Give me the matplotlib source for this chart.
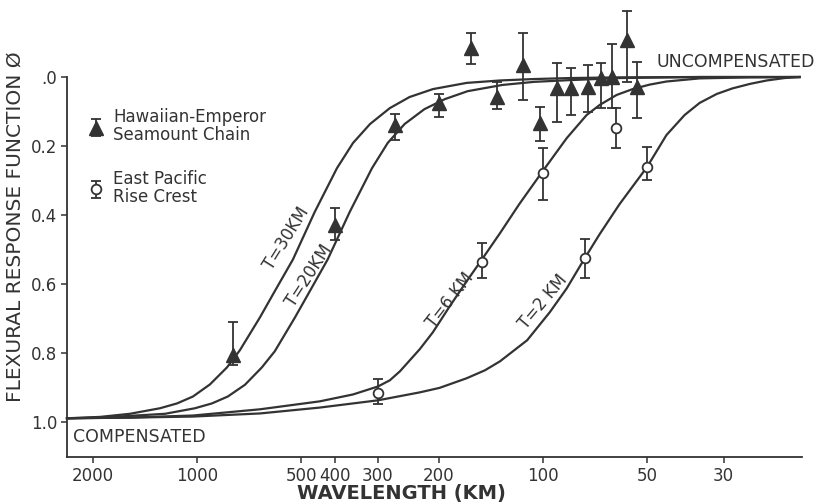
import numpy as np
import matplotlib
matplotlib.use("Agg")
import matplotlib.pyplot as plt

# flexural response curves, wavelength (km) vs phi
t30_wl = [2378, 1909, 1564, 1281, 1143, 1028, 918, 820, 752, 658, 596, 528, 457, 394, 354, 316, 277, 243, 208, 166, 133, 107, 83.6, 60, 35.2, 18.1]
t30_phi = [0.988, 0.984, 0.975, 0.959, 0.945, 0.925, 0.890, 0.841, 0.791, 0.696, 0.620, 0.528, 0.391, 0.264, 0.191, 0.136, 0.090, 0.058, 0.035, 0.017, 0.010, 0.006, 0.003, 0.001, 0.0, 0.0]

t20_wl = [2378, 1909, 1564, 1238, 1015, 906, 815, 727, 650, 596, 521, 472, 419, 362, 312, 281, 251, 220, 192, 165, 131, 106, 83.6, 60, 35.2, 18.1]
t20_phi = [0.988, 0.986, 0.981, 0.975, 0.959, 0.945, 0.925, 0.891, 0.841, 0.794, 0.696, 0.620, 0.528, 0.391, 0.264, 0.191, 0.136, 0.093, 0.064, 0.041, 0.023, 0.014, 0.009, 0.003, 0.0, 0.0]

t6_wl = [2378, 1564, 1028, 658, 442, 354, 300, 277, 259, 227, 208, 186, 166, 150, 133, 117, 100, 85.3, 74.7, 68.5, 61.2, 55.0, 49.1, 43.9, 35.2, 25.2, 18.1]
t6_phi = [0.988, 0.986, 0.980, 0.962, 0.939, 0.919, 0.896, 0.878, 0.852, 0.788, 0.739, 0.664, 0.591, 0.528, 0.452, 0.368, 0.272, 0.177, 0.110, 0.081, 0.052, 0.035, 0.022, 0.013, 0.004, 0.001, 0.0]

t2_wl = [2378, 1564, 1028, 658, 442, 300, 227, 199, 166, 147, 133, 111, 95.5, 85.3, 75.7, 68.5, 60.0, 50, 43.9, 38.9, 35.2, 31.4, 28.3, 25.2, 22.5, 20.0, 18.1]
t2_phi = [0.988, 0.986, 0.983, 0.974, 0.957, 0.936, 0.913, 0.900, 0.872, 0.849, 0.823, 0.762, 0.681, 0.612, 0.525, 0.455, 0.368, 0.261, 0.168, 0.110, 0.075, 0.049, 0.033, 0.020, 0.010, 0.003, 0.0]

# Hawaiian-Emperor seamount chain estimates
haw_wl = [788, 400, 268, 200, 161, 136, 114, 102, 91, 83, 74, 68, 63, 57, 53.5]
haw_phi = [0.806, 0.429, 0.139, 0.075, -0.084, 0.058, -0.035, 0.133, 0.032, 0.032, 0.029, 0.003, 0.0, -0.107, 0.029]
haw_lo = [0.71, 0.38, 0.107, 0.049, -0.128, 0.014, -0.128, 0.087, -0.041, -0.026, -0.035, -0.041, -0.096, -0.191, -0.043]
haw_hi = [0.835, 0.473, 0.183, 0.116, -0.038, 0.093, 0.067, 0.186, 0.13, 0.11, 0.101, 0.09, 0.09, 0.014, 0.119]

# East Pacific Rise crest estimates
epr_wl = [300, 150, 100, 75.7, 61.5, 50]
epr_phi = [0.916, 0.536, 0.278, 0.525, 0.148, 0.261]
epr_lo = [0.873, 0.481, 0.206, 0.47, 0.09, 0.203]
epr_hi = [0.948, 0.583, 0.357, 0.583, 0.206, 0.299]

xticks = [2000, 1000, 500, 400, 300, 200, 100, 50, 30]
yticks = [0, 0.2, 0.4, 0.6, 0.8, 1.0]
ytick_labels = [".0", "0.2", "0.4", "0.6", "0.8", "1.0"]

ink = "#333333"

fig = plt.figure(figsize=(8.27, 5.03), dpi=100)
ax = fig.add_axes([0.081, 0.0915, 0.8888, 0.8996])

for wl, phi in [(t30_wl, t30_phi), (t20_wl, t20_phi), (t6_wl, t6_phi), (t2_wl, t2_phi)]:
    ax.plot(wl, phi, color=ink, lw=1.6, solid_joinstyle="round", clip_on=False)

haw_phi_a = np.array(haw_phi)
epr_phi_a = np.array(epr_phi)
haw_err = [haw_phi_a - np.array(haw_lo), np.array(haw_hi) - haw_phi_a]
epr_err = [epr_phi_a - np.array(epr_lo), np.array(epr_hi) - epr_phi_a]

h1 = ax.errorbar(haw_wl, haw_phi, yerr=haw_err, fmt="^", ms=10, color=ink,
                 mfc=ink, mec=ink, ecolor=ink, elinewidth=1.3, capsize=3.5,
                 capthick=1.3, clip_on=False, zorder=4)
h2 = ax.errorbar(epr_wl, epr_phi, yerr=epr_err, fmt="o", ms=7, color=ink,
                 mfc="white", mec=ink, mew=1.3, ecolor=ink, elinewidth=1.3,
                 capsize=3.5, capthick=1.3, clip_on=False, zorder=4)

ax.set_xscale("log")
ax.set_xlim(2378, 17.8)
ax.set_ylim(1.1, -0.21)
ax.set_xticks(xticks)
ax.set_xticklabels([str(v) for v in xticks])
ax.xaxis.set_minor_locator(matplotlib.ticker.NullLocator())
ax.set_yticks(yticks)
ax.set_yticklabels(ytick_labels)
ax.tick_params(direction="out", length=4, width=1.1, colors=ink, labelsize=12, pad=3)

ax.spines["top"].set_visible(False)
ax.spines["right"].set_visible(False)
ax.spines["left"].set_bounds(0, 1.1)
for s in ["left", "bottom"]:
    ax.spines[s].set_color(ink)
    ax.spines[s].set_linewidth(1.3)

# curve labels
ax.text(550, 0.467, "T=30KM", rotation=58, ha="center", va="center", fontsize=12, color=ink)
ax.text(475, 0.574, "T=20KM", rotation=57, ha="center", va="center", fontsize=12, color=ink)
ax.text(186, 0.646, "T=6 KM", rotation=52, ha="center", va="center", fontsize=12, color=ink)
ax.text(100, 0.652, "T=2 KM", rotation=50, ha="center", va="center", fontsize=12, color=ink)

ax.text(46.9, -0.043, "UNCOMPENSATED", ha="left", va="center", fontsize=12.5, color=ink)
ax.text(2284, 1.043, "COMPENSATED", ha="left", va="center", fontsize=12.5, color=ink)

leg = ax.legend([h1, h2], ["Hawaiian-Emperor\nSeamount Chain", "East Pacific\nRise Crest"],
                loc="upper left", bbox_to_anchor=(0.02, 0.785), frameon=False,
                handlelength=0.9, handletextpad=0.6, labelspacing=1.55,
                fontsize=12, borderaxespad=0)
for t in leg.get_texts():
    t.set_color(ink)
    t.set_linespacing(1.0)

fig.text(15 / 827, 1 - 227 / 503, "FLEXURAL RESPONSE FUNCTION Ø", rotation=90,
         ha="center", va="center", fontsize=14.5, color=ink)
fig.text(401 / 827, 1 - 493 / 503, "WAVELENGTH (KM)", ha="center", va="center",
         fontsize=14, fontweight="bold", color=ink)

fig.savefig("out.png", dpi=100)
